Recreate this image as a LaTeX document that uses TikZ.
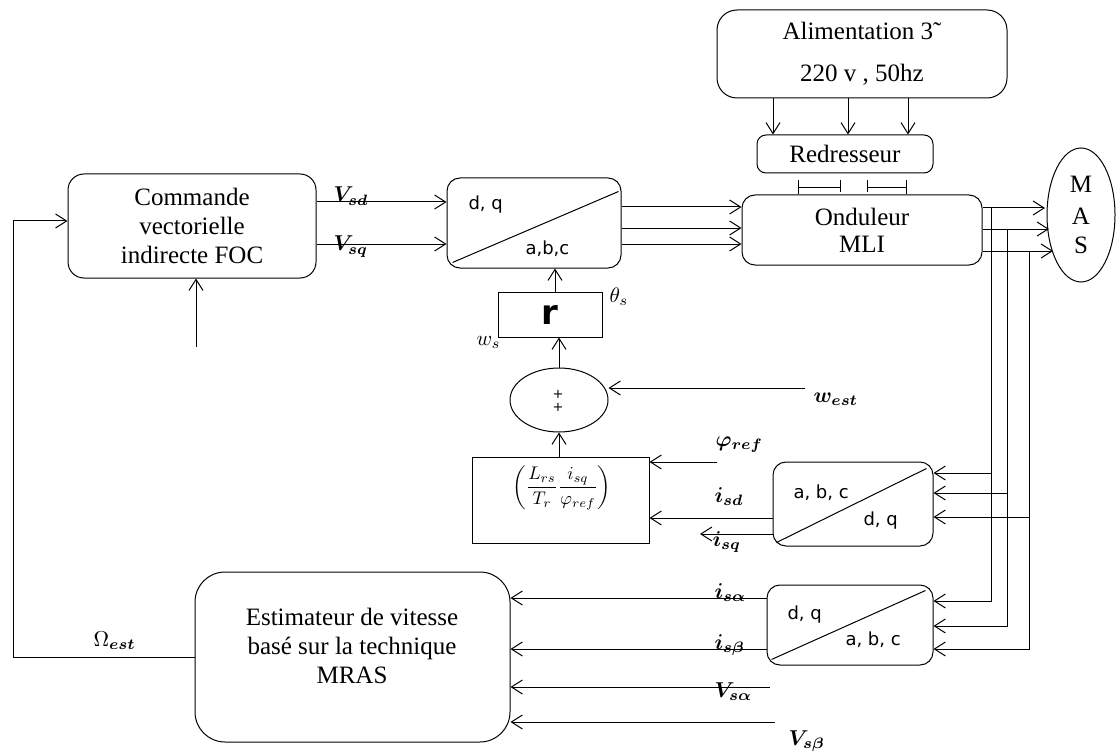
\RequirePackage{fix-cm}
\documentclass[tikz,border=0pt]{standalone}
\usepackage{amsmath,bm,graphicx}
\usepackage{fontspec}
\setmainfont{Liberation Serif}
\newfontfamily\verd{DejaVu Sans}
\usetikzlibrary{arrows.meta,shapes.geometric}
\newcommand\bxf{\fontsize{25}{29}\selectfont}
\newcommand\sxf{\verd\fontsize{18}{22}\selectfont}
% signal names: bold math, enlarged
\newcommand\sig[1]{\scalebox{2.15}{$#1$}}
\newcommand\tsig[1]{\scalebox{2.1}{$#1$}}
\begin{document}
\begin{tikzpicture}[x=1pt,y=-1pt,line width=1pt,
  arr/.style={-{Straight Barb[length=11pt,width=14pt]}},
  rbox/.style={draw,rounded corners=#1,inner sep=0pt,align=center,font=\bxf},
  rbox/.default=14pt,
  sbox/.style={draw,inner sep=0pt},
  lab/.style={inner sep=0pt,anchor=base west},
  sl/.style={inner sep=0pt,font=\sxf,anchor=base west}]
\useasboundingbox (0,0) rectangle (1116,754);

% --- blocks ---
\node[rbox=16pt,minimum width=248pt,minimum height=104pt] (foc) at (192,226) {Commande\\vectorielle\\indirecte FOC};
\node[rbox=13pt,minimum width=174pt,minimum height=90pt] (dq1) at (534,223) {};
\node[rbox=13pt,minimum width=240pt,minimum height=70pt] (ond) at (862,230) {Onduleur\\[-2pt]MLI};
\node[rbox=20pt,minimum width=290pt,minimum height=88pt] (alim) at (862,54) {Alimentation 3˜\\[13pt]220 v , 50hz};
\node[rbox=9pt,minimum width=176pt,minimum height=38pt] (redr) at (845,154) {Redresseur};
\node[draw,ellipse,minimum width=68pt,minimum height=134pt,inner sep=0pt,align=center,font=\bxf] (mas) at (1081,215) {M\\[3pt]A\\[0pt]S};
\node[sbox,minimum width=104pt,minimum height=45pt] (rho) at (550,314.5) {\verd\bfseries\fontsize{34}{34}\selectfont r};
\node[draw,ellipse,minimum width=98pt,minimum height=64pt,inner sep=0pt] (sum) at (559,400) {};
\node[inner sep=0pt,font=\verd\fontsize{13}{13}\selectfont] (plusA) at (558,394) {+};
\node[inner sep=0pt,font=\verd\fontsize{13}{13}\selectfont] (plusB) at (558,407) {+};
\node[sbox,minimum width=177pt,minimum height=86pt] (frac) at (560.5,500) {};
\node[inner sep=0pt] (fracTxt) at (562,488) {\scalebox{1.83}{$\displaystyle\left(\frac{L_{rs}}{T_r}\frac{i_{sq}}{\varphi_{ref}}\right)$}};
\node[rbox=13pt,minimum width=160pt,minimum height=84pt] (abc1) at (853,504) {};
\node[rbox=13pt,minimum width=166pt,minimum height=80pt] (abc2) at (850,625) {};
\node[rbox=30pt,minimum width=315pt,minimum height=170pt] (est) at (352.5,657) {};
\node[font=\bxf,align=center,inner sep=0pt] (estTxt) at (352,646) {Estimateur de vitesse\\basé sur la technique\\MRAS};

% --- transformation diagonals and their labels ---
\draw ([xshift=6pt,yshift=6pt]dq1.south west) -- ([xshift=-3pt,yshift=-14pt]dq1.north east);
\draw ([xshift=4pt,yshift=4pt]abc1.south west) -- ([xshift=-7pt,yshift=-7pt]abc1.north east);
\draw ([xshift=5pt,yshift=6pt]abc2.south west) -- ([xshift=-8pt,yshift=-6pt]abc2.north east);
\node[sl] (dq1a) at (468,210) {d, q};
\node[sl] (dq1b) at (525,254) {a,b,c};
\node[sl] (abc1a) at (793,498) {a, b, c};
\node[sl] (abc1b) at (863,525) {d, q};
\node[sl] (abc2a) at (787,619) {d, q};
\node[sl] (abc2b) at (845,645) {a, b, c};

% --- free ends ---
\coordinate (refIn) at (196,347);
\coordinate (fbA) at (13,657);
\coordinate (fbB) at (13,221);
\coordinate (m1) at (1045,208);
\coordinate (m2) at (1049,229);
\coordinate (m3) at (1053,251);
\coordinate (west) at (805,388);
\coordinate (phiIn) at (717,462);
\coordinate (isqOut) at (700,534);
\coordinate (vsaIn) at (770,687);
\coordinate (vsbIn) at (775,722);

% --- connectors ---
\draw[arr] (est.west) -- (fbA) -- (fbB) -- (foc.west |- fbB);
\draw[arr] (refIn) -- (refIn |- foc.south);
\draw[arr] (foc.east |- 0,202) -- (dq1.west |- 0,202);
\draw[arr] (foc.east |- 0,244) -- (dq1.west |- 0,244);
\foreach \y in {207,228,244} \draw[arr] (dq1.east |- 0,\y) -- (ond.west |- 0,\y);
\foreach \x in {773,848,908} \draw[arr] (alim.south -| \x,0) -- (redr.north -| \x,0);
% DC link
\draw (ond.north -| 798,0) -- (798,180);
\draw (798,188) -- (840,188);
\draw (840,180) -- (840,192);
\draw (867,180) -- (867,192);
\draw (867,188) -- (906,188);
\draw (ond.north -| 906,0) -- (906,180);
% inverter to motor
\draw[arr] (ond.east |- m1) -- (m1);
\draw[arr] (ond.east |- m2) -- (m2);
\draw[arr] (ond.east |- m3) -- (m3);
% current measurements
\draw[arr] (991,208) -- (991,601) -- (abc2.east |- 0,601);
\draw[arr] (991,473) -- (abc1.east |- 0,473);
\draw[arr] (1007,229) -- (1007,626) -- (abc2.east |- 0,626);
\draw[arr] (1007,493) -- (abc1.east |- 0,493);
\draw[arr] (1029,251) -- (1029,649) -- (abc2.east |- 0,649);
\draw[arr] (1029,517) -- (abc1.east |- 0,517);
% slip calculation
\draw[arr] (abc1.west |- 0,518) -- (frac.east |- 0,518);
\draw[arr] (abc1.west |- isqOut) -- (isqOut);
\draw[arr] (phiIn) -- (frac.east |- phiIn);
\draw[arr] (frac.north -| sum.south) -- (sum.south);
\draw[arr] (sum.north) -- (sum.north |- rho.south);
\draw[arr] ([xshift=5pt]rho.north) -- ([xshift=5pt]rho.north |- dq1.south);
\draw[arr] (west) -- (sum.east |- west);
% estimator inputs
\draw[arr] (abc2.west |- 0,598) -- (est.east |- 0,598);
\draw[arr] (abc2.west |- 0,649) -- (est.east |- 0,649);
\draw[arr] (vsaIn) -- (est.east |- vsaIn);
\draw[arr] (vsbIn) -- (est.east |- vsbIn);

% --- signal labels ---
\node[lab] (lVsd) at (333,202) {\sig{\bm{V}_{\bm{sd}}}};
\node[lab] (lVsq) at (333,251) {\sig{\bm{V}_{\bm{sq}}}};
\node[lab] (lth) at (609,302) {\tsig{\theta_s}};
\node[lab] (lws) at (476,345) {\tsig{w_s}};
\node[lab] (lwest) at (813,402) {\sig{\bm{w}_{\bm{est}}}};
\node[lab] (lphi) at (715,446) {\sig{\bm{\varphi}_{\bm{ref}}}};
\node[lab] (lisd) at (714,502) {\sig{\bm{i}_{\bm{sd}}}};
\node[lab] (lisq) at (712,546) {\sig{\bm{i}_{\bm{sq}}}};
\node[lab] (lisa) at (714,598) {\sig{\bm{i}_{\bm{s\alpha}}}};
\node[lab] (lisb) at (714,649) {\sig{\bm{i}_{\bm{s\beta}}}};
\node[lab] (lvsa) at (714,697) {\sig{\bm{V}_{\bm{s\alpha}}}};
\node[lab] (lvsb) at (788,745) {\sig{\bm{V}_{\bm{s\beta}}}};
\node[lab] (lom) at (93,646) {\sig{\Omega_{\bm{est}}}};
\end{tikzpicture}
\end{document}
